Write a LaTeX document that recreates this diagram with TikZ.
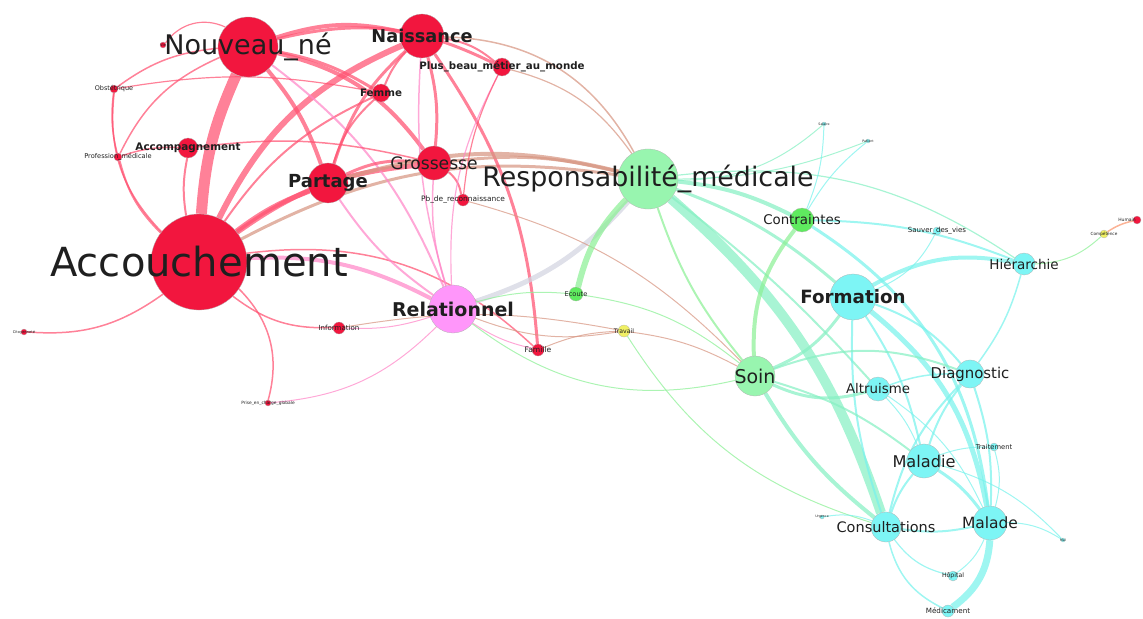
\documentclass[tikz,border=0pt]{standalone}
\usepackage{fontspec}
\setmainfont{DejaVu Sans}
\usetikzlibrary{backgrounds}

\definecolor{nRouge}{RGB}{242,22,62}
\definecolor{nVertP}{RGB}{152,245,175}
\definecolor{nVertF}{RGB}{95,235,95}
\definecolor{nCyan}{RGB}{125,245,245}
\definecolor{nRose}{RGB}{255,150,250}
\definecolor{nJaune}{RGB}{240,240,100}
\definecolor{lRouge}{RGB}{255,80,112}
\definecolor{lRose}{RGB}{255,135,200}
\definecolor{lBrun}{RGB}{215,150,130}
\definecolor{lVertC}{RGB}{135,240,195}
\definecolor{lCyan}{RGB}{120,242,236}
\definecolor{lVert}{RGB}{140,240,150}
\definecolor{lGris}{RGB}{210,212,225}
\definecolor{lOrange}{RGB}{250,150,110}

\begin{document}
\begin{tikzpicture}[x=0.025cm,y=-0.025cm,
  noeud/.style={circle,draw=black!30,line width=0.2pt,inner sep=0pt,minimum size=#1*0.05cm},
  rouge/.style={noeud=#1,fill=nRouge},
  vert/.style={noeud=#1,fill=nVertP},
  vertf/.style={noeud=#1,fill=nVertF},
  cyan/.style={noeud=#1,fill=nCyan},
  rose/.style={noeud=#1,fill=nRose},
  jaune/.style={noeud=#1,fill=nJaune},
  txt/.style={font=\fontsize{#1pt}{#1pt}\selectfont,text=black!88,inner sep=0pt},
  txtb/.style={font=\fontsize{#1pt}{#1pt}\selectfont\bfseries,text=black!88,inner sep=0pt},
  lien/.style={line width=#1*0.71pt,draw opacity=.72},
  lr/.style={lien=#1,draw=lRouge},
  lp/.style={lien=#1,draw=lRose},
  lb/.style={lien=#1,draw=lBrun},
  lvc/.style={lien=#1,draw=lVertC},
  lc/.style={lien=#1,draw=lCyan},
  lv/.style={lien=#1,draw=lVert},
  lg/.style={lien=#1,draw=lGris},
  lo/.style={lien=#1,draw=lOrange}]
\useasboundingbox (0,0) rectangle (1143,618);

% maternite
\node[rouge=48,label={[txt=28.5]center:Accouchement}] (acc) at (199,262) {};
\node[rouge=30,label={[txt=19.2]center:Nouveau\_né}] (nou) at (248,47) {};
\node[rouge=22,label={[txtb=12.6]center:Naissance}] (nai) at (422,36) {};
\node[rouge=9,label={[txtb=7.3]center:Plus\_beau\_métier\_au\_monde}] (pbm) at (502,67) {};
\node[rouge=9,label={[txtb=7.3]center:Femme}] (fem) at (381,93) {};
\node[rouge=4,label={[txt=4.6]center:Obstétrique}] (obs) at (114,89) {};
\node[rouge=10,label={[txtb=7.4]center:Accompagnement}] (acm) at (188,148) {};
\node[rouge=4,label={[txt=4.7]center:Profession\_médicale}] (pro) at (118,157) {};
\node[rouge=20,label={[txtb=12.8]center:Partage}] (par) at (328,183) {};
\node[rouge=17,label={[txt=12.2]center:Grossesse}] (gro) at (434,163) {};
\node[rouge=6,label={[txt=5.3]center:Pb\_de\_reconnaissance}] (pbr) at (463,200) {};
\node[rouge=6,label={[txt=5]center:Information}] (inf) at (339,328) {};
\node[rouge=6,label={[txt=5.4]center:Famille}] (fam) at (538,350) {};
\node[rouge=3,label={[txt=2.6]center:Citoyenneté}] (cit) at (24,332) {};
\node[rouge=3,label={[txt=3.1]center:Prise\_en\_charge\_globale}] (pec) at (268,403) {};
\node[rouge=3,label={[txt=2.6]center:Vie}] (vie) at (163,45) {};
\node[rouge=4,label={[txt=3.2,xshift=-0.25cm]center:Humain}] (hum) at (1137,220) {};

% centre
\node[rose=24,label={[txtb=13.5]center:Relationnel}] (rel) at (453,309) {};
\node[vert=30,label={[txt=19.1]center:Responsabilité\_médicale}] (resp) at (648,179) {};
\node[vertf=12,label={[txt=9.5]center:Contraintes}] (con) at (802,220) {};
\node[vertf=7,label={[txt=4.7]center:Ecoute}] (eco) at (576,294) {};
\node[jaune=6,label={[txt=4.4]center:Travail}] (tra) at (624,331) {};
\node[jaune=4,label={[txt=3]center:Compétence}] (comp) at (1104,234) {};
\node[vert=20,label={[txt=13.5]center:Soin}] (soin) at (755,376) {};

% soins
\node[cyan=23,label={[txtb=13]center:Formation}] (for) at (853,297) {};
\node[cyan=11,label={[txt=9.6]center:Hiérarchie}] (hie) at (1024,264) {};
\node[cyan=4,label={[txt=5]center:Sauver\_des\_vies}] (sau) at (937,231) {};
\node[cyan=2,label={[txt=2.3]center:Salaire}] (sal) at (824,124) {};
\node[cyan=2,label={[txt=2.3]center:Patient}] (pat) at (868,141) {};
\node[cyan=12,label={[txt=9.5]center:Altruisme}] (alt) at (878,389) {};
\node[cyan=14,label={[txt=10.6]center:Diagnostic}] (dia) at (970,374) {};
\node[cyan=17,label={[txt=11.5]center:Maladie}] (mld) at (924,461) {};
\node[cyan=4,label={[txt=4.8]center:Traitement}] (trt) at (994,447) {};
\node[cyan=15,label={[txt=10.3]center:Consultations}] (cons) at (886,527) {};
\node[cyan=17,label={[txt=11]center:Malade}] (mal) at (990,523) {};
\node[cyan=2,label={[txt=2.3]center:Urgence}] (urg) at (822,517) {};
\node[cyan=2,label={[txt=2.3]center:Mal}] (mlx) at (1063,540) {};
\node[cyan=5,label={[txt=4.4]center:Hôpital}] (hop) at (953,576) {};
\node[cyan=6,label={[txt=5.1]center:Médicament}] (med) at (948,611) {};

\begin{scope}[on background layer]
% liens rouges
\draw[lr=11] (acc) to[bend left=10] (nou);
\draw[lr=6] (acc) to[bend left=20] (nai);
\draw[lr=5] (acc) to[bend left=8] (par);
\draw[lr=5] (acc) to[bend left=15] (gro);
\draw[lb=3] (acc) to[bend left=18] (resp);
\draw[lp=4] (acc) to[bend left=15] (rel);
\draw[lr=2] (acc) to[bend left=10] (acm);
\draw[lr=1.5] (acc) to[bend left=25] (obs);
\draw[lr=2] (acc) to[bend left=15] (pro);
\draw[lr=1.5] (acc) to[bend right=20] (inf);
\draw[lr=1.5] (acc) to[bend left=30] (pec);
\draw[lr=1.5] (acc) to[bend left=20] (cit);
\draw[lr=2] (acc) to[bend left=15] (fem);
\draw[lr=1.5] (acc) to[bend left=25] (fam);
\draw[lr=4] (nou) to[bend left=15] (nai);
\draw[lr=3] (nou) to[bend left=10] (fem);
\draw[lr=4] (nou) to[bend left=10] (par);
\draw[lr=4] (nou) to[bend left=20] (gro);
\draw[lp=2] (nou) to[bend left=15] (rel);
\draw[lr=1.5] (nou) to[bend right=15] (obs);
\draw[lr=3] (nou) to[bend left=20] (pbm);
\draw[lr=1.2] (nou) to[bend right=40] (vie);
\draw[lr=3] (nai) to[bend right=15] (par);
\draw[lr=3] (nai) to[bend left=10] (gro);
\draw[lr=2] (nai) to[bend right=10] (fem);
\draw[lr=2] (nai) to[bend left=15] (pbm);
\draw[lr=3] (nai) to[bend left=15] (fam);
\draw[lb=1.5] (nai) to[bend left=30] (resp);
\draw[lp=1.5] (nai) to[bend right=10] (rel);
\draw[lr=3] (par) to[bend left=15] (gro);
\draw[lp=2] (par) to[bend right=10] (rel);
\draw[lb=4] (par) to[bend left=15] (resp);
\draw[lr=2] (fem) to[bend right=15] (par);
\draw[lb=3] (gro) to[bend left=10] (resp);
\draw[lp=1.5] (gro) to[bend right=10] (rel);
\draw[lr=2] (gro) to[bend left=20] (pbr);
\draw[lp=1.2] (pbm) to[bend right=15] (rel);
\draw[lb=1.2] (pbm) to[bend left=20] (resp);
\draw[lr=1.2] (pbm) to[bend right=10] (pbr);
\draw[lr=1.5] (acm) to[bend right=10] (pro);
\draw[lr=1.5] (acm) to[bend left=10] (gro);
\draw[lr=1.5] (pro) to[bend left=10] (obs);
\draw[lr=1.5] (pro) to[bend left=20] (nou);
\draw[lr=1.2] (obs) to[bend left=10] (fem);
\draw[lp=1] (rel) to[bend left=10] (inf);
\draw[lp=1] (rel) to[bend right=10] (fam);
\draw[lp=1] (rel) to[bend left=20] (pec);
\draw[lb=1] (rel) to[bend right=15] (tra);
\draw[lg=5] (rel) to[bend right=15] (resp);
\draw[lv=1] (rel) to[bend left=10] (eco);
\draw[lb=1] (inf) to[bend left=10] (tra);
\draw[lb=1] (fam) to[bend left=10] (tra);
\draw[lb=1] (pbr) to[bend left=15] (soin);
% liens verts et cyans
\draw[lv=6] (resp) to[bend right=15] (eco);
\draw[lvc=4] (resp) to[bend left=10] (con);
\draw[lvc=10] (resp) to[bend left=15] (cons);
\draw[lvc=3] (resp) to[bend left=10] (for);
\draw[lv=2] (resp) to[bend right=10] (soin);
\draw[lvc=2] (resp) to[bend left=5] (alt);
\draw[lvc=1] (resp) to[bend right=20] (sal);
\draw[lvc=1.2] (resp) to[bend left=20] (hie);
\draw[lvc=1] (resp) to[bend right=10] (pat);
\draw[lv=4] (con) to[bend right=20] (soin);
\draw[lc=2] (con) to[bend left=10] (hie);
\draw[lc=3] (con) to[bend left=25] (mal);
\draw[lc=1] (con) to[bend left=10] (pat);
\draw[lc=1] (con) to[bend right=10] (sal);
\draw[lc=4] (for) to[bend left=20] (hie);
\draw[lvc=3] (for) to[bend left=15] (soin);
\draw[lc=2] (for) to[bend right=10] (cons);
\draw[lc=2] (for) to[bend left=10] (mld);
\draw[lc=2] (for) to[bend left=15] (dia);
\draw[lc=5] (for) to[bend left=20] (mal);
\draw[lc=1] (for) to[bend right=20] (sau);
\draw[lvc=4] (soin) to[bend right=10] (cons);
\draw[lvc=3] (soin) to[bend right=20] (alt);
\draw[lvc=2] (soin) to[bend left=10] (mld);
\draw[lvc=2] (soin) to[bend left=20] (dia);
\draw[lv=1] (soin) to[bend right=15] (eco);
\draw[lb=1] (soin) to[bend right=10] (tra);
\draw[lv=1] (tra) to[bend right=20] (cons);
\draw[lv=1] (rel) to[bend right=25] (soin);
\draw[lc=2] (dia) to[bend left=10] (mal);
\draw[lc=2] (dia) to[bend right=15] (cons);
\draw[lc=2] (dia) to[bend right=10] (mld);
\draw[lc=1.5] (dia) to[bend right=10] (alt);
\draw[lc=1.5] (hie) to[bend left=10] (dia);
\draw[lc=7] (mal) to[bend left=25] (med);
\draw[lc=3] (mld) to[bend left=10] (mal);
\draw[lc=2] (cons) to[bend right=10] (mal);
\draw[lc=2] (cons) to[bend left=10] (mld);
\draw[lc=1.2] (cons) to[bend right=20] (hop);
\draw[lc=1.5] (cons) to[bend right=25] (med);
\draw[lc=1] (cons) to[bend right=15] (urg);
\draw[lc=1] (mal) to[bend left=15] (mlx);
\draw[lc=1] (mal) to[bend left=15] (hop);
\draw[lc=1] (trt) to[bend left=15] (mal);
\draw[lc=1] (trt) to[bend right=10] (mld);
\draw[lc=1] (alt) to[bend left=10] (mld);
\draw[lc=1] (alt) to[bend left=15] (mal);
\draw[lc=1] (mld) to[bend left=15] (mlx);
\draw[lv=1] (hie) to[bend right=20] (comp);
\draw[lo=1.5] (comp) to[bend left=10] (hum);
\end{scope}
\end{tikzpicture}
\end{document}
